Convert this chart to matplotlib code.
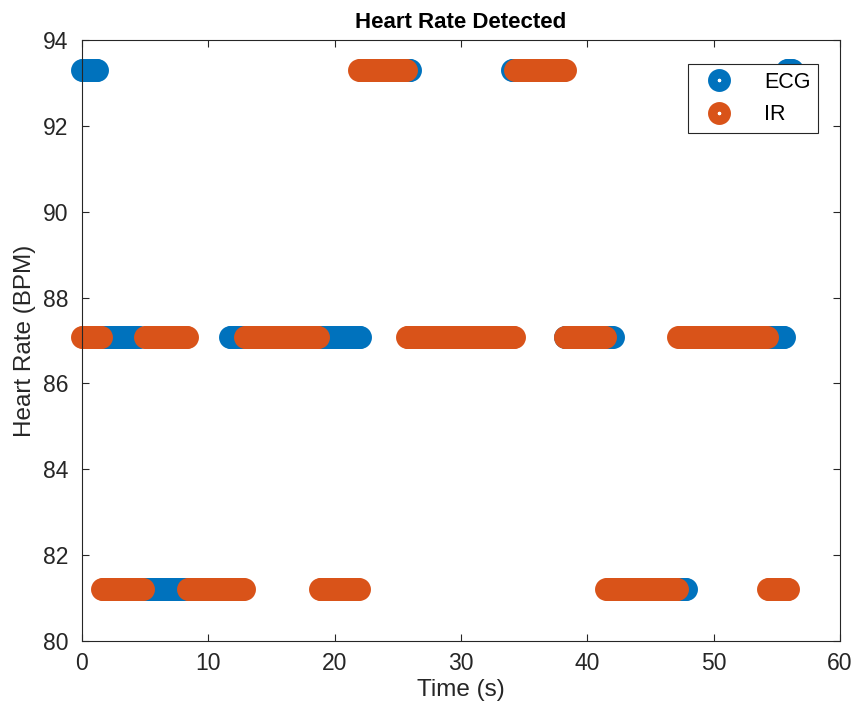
import numpy as np
import matplotlib
matplotlib.use('Agg')
import matplotlib.pyplot as plt

plt.rcParams['font.family'] = ['Liberation Sans', 'DejaVu Sans']

# detected heart rate segments (time in s, rate in BPM)
ecg_start = [0.0, 1.3, 4.6, 11.7, 22.1, 26.1, 34.0, 38.2, 42.1, 47.9, 55.8]
ecg_end = [1.2, 4.5, 11.5, 22.0, 26.0, 33.9, 38.1, 42.0, 47.8, 55.6, 56.2]
ecg_bpm = [93.3, 87.07, 81.2, 87.07, 93.3, 87.07, 93.3, 87.07, 81.2, 87.07, 93.3]

ir_start = [0.0, 1.6, 5.0, 8.4, 12.9, 18.8, 21.95, 25.7, 34.3, 38.2, 41.5, 47.2, 54.3]
ir_end = [1.5, 4.8, 8.3, 12.8, 18.7, 21.85, 25.6, 34.2, 38.2, 41.4, 47.1, 54.2, 55.9]
ir_bpm = [87.07, 81.2, 87.07, 81.2, 87.07, 81.2, 93.3, 87.07, 93.3, 87.07, 81.2, 87.07, 81.2]

step = 0.1  # sampling step of the detector output


def expand(starts, ends, bpm):
    t = []
    hr = []
    for a, b, v in zip(starts, ends, bpm):
        tt = np.arange(a, b + step / 2, step)
        t.extend(tt)
        hr.extend([v] * len(tt))
    return np.array(t), np.array(hr)


ecg_t, ecg_hr = expand(ecg_start, ecg_end, ecg_bpm)
ir_t, ir_hr = expand(ir_start, ir_end, ir_bpm)

fig = plt.figure(figsize=(8.61, 7.17), dpi=100)
ax = fig.add_axes([82 / 861, 1 - 641 / 717, (840 - 82) / 861, (641 - 40) / 717])

ax.plot(ecg_t, ecg_hr, linestyle='none', marker='o', markersize=9.7,
        markeredgewidth=6.8, markerfacecolor='none', markeredgecolor='#0072BD',
        label='ECG', clip_on=False)
ax.plot(ir_t, ir_hr, linestyle='none', marker='o', markersize=9.7,
        markeredgewidth=6.8, markerfacecolor='none', markeredgecolor='#D95319',
        label='IR', clip_on=False)

ax.set_xlim(0, 60)
ax.set_ylim(80, 94)
ax.set_xticks(np.arange(0, 61, 10))
ax.set_yticks(np.arange(80, 95, 2))
ax.tick_params(direction='in', length=5, width=0.8, top=True, right=True,
               labelsize=16.5, colors='#262626')
ax.tick_params(axis='y', pad=10)
ax.tick_params(axis='x', pad=8)
for s in ax.spines.values():
    s.set_color('#262626')
    s.set_linewidth(0.8)

ax.set_title('Heart Rate Detected', fontsize=16, fontweight='bold', pad=9)
ax.set_xlabel('Time (s)', fontsize=17.5, color='#262626', labelpad=3)
ax.set_ylabel('Heart Rate (BPM)', fontsize=17.5, color='#262626', labelpad=5)

leg = ax.legend(loc='upper right', bbox_to_anchor=(0.971, 0.960), fontsize=15.5,
                fancybox=False, edgecolor='#262626', framealpha=1,
                borderaxespad=0, borderpad=0.35, handletextpad=1.0,
                labelspacing=0.55, handlelength=2.2)
leg.get_frame().set_linewidth(0.8)

fig.savefig('out.png', dpi=100)
